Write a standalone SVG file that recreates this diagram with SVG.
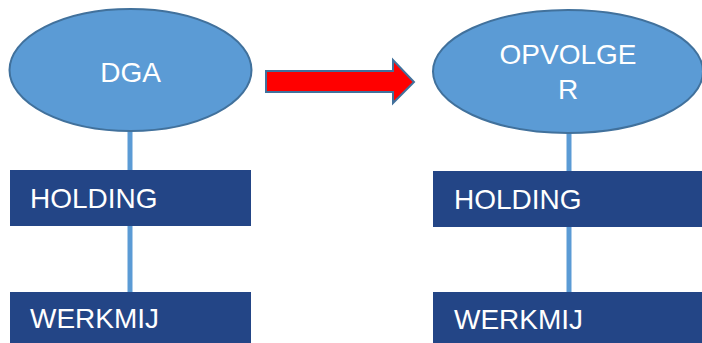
<svg xmlns="http://www.w3.org/2000/svg" width="702" height="343" viewBox="0 0 702 343">
<style>
.ell{fill:#5B9BD5;stroke:#41719C;stroke-width:2}
.box{fill:#234586}
.lbl{fill:#ffffff;font-family:"Liberation Sans",Arial,sans-serif;font-size:28px}
.con{stroke:#5B9BD5;stroke-width:5;fill:none}
</style>
<g id="connectors">
<line class="con" x1="130" y1="131" x2="130" y2="171"/>
<line class="con" x1="130" y1="225" x2="130" y2="293"/>
<line class="con" x1="569" y1="133" x2="569" y2="172"/>
<line class="con" x1="569" y1="226" x2="569" y2="293"/>
<path d="M266,71 H393 V60 L414,82 L393,103 V92 H266 Z" fill="#FF0000" stroke="#41719C" stroke-width="2"/>
</g>
<g id="dga">
<ellipse class="ell" cx="130.5" cy="70" rx="121" ry="61"/>
<text class="lbl" x="130.5" y="82" text-anchor="middle">DGA</text>
</g>
<g id="opvolger">
<ellipse class="ell" cx="568" cy="71.5" rx="135" ry="61.5"/>
<text class="lbl" x="568" y="64" text-anchor="middle">OPVOLGE</text>
<text class="lbl" x="568" y="99" text-anchor="middle">R</text>
</g>
<g id="holding-left">
<rect class="box" x="10" y="170" width="241" height="56"/>
<text class="lbl" x="30" y="208">HOLDING</text>
</g>
<g id="werkmij-left">
<rect class="box" x="10" y="292" width="241" height="51"/>
<text class="lbl" x="30" y="328">WERKMIJ</text>
</g>
<g id="holding-right">
<rect class="box" x="433" y="171" width="269" height="56"/>
<text class="lbl" x="454" y="209">HOLDING</text>
</g>
<g id="werkmij-right">
<rect class="box" x="433" y="292" width="269" height="51"/>
<text class="lbl" x="454" y="329">WERKMIJ</text>
</g>
</svg>
